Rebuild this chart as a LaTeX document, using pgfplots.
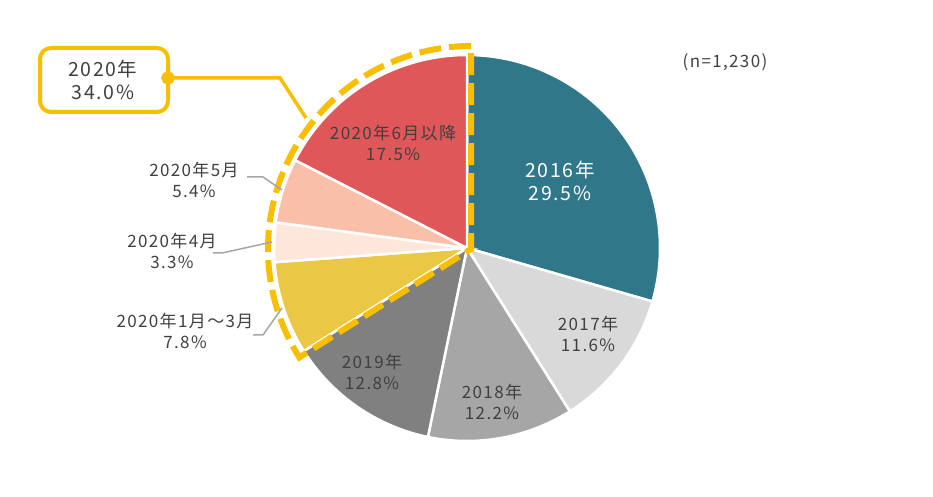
\documentclass[border=0pt]{standalone}
\usepackage{pgfplots}
\pgfplotsset{compat=1.18}
\usepackage{fontspec}
\setmainfont[LetterSpace=8]{Noto Sans CJK JP}
\definecolor{cA}{HTML}{31778A}
\definecolor{cB}{HTML}{D9D9D9}
\definecolor{cC}{HTML}{A6A6A6}
\definecolor{cD}{HTML}{808080}
\definecolor{cE}{HTML}{EBC746}
\definecolor{cF}{HTML}{FDE7DA}
\definecolor{cG}{HTML}{F9BFA8}
\definecolor{cH}{HTML}{E05759}
\definecolor{ylw}{HTML}{F8BF00}
\definecolor{txt}{HTML}{404040}
\definecolor{lead}{HTML}{A6A6A6}
\tikzset{lbl/.style={font=\fontsize{17bp}{20.5bp}\selectfont, text=txt, align=center, inner sep=0pt},
  big/.style={lbl, font=\fontsize{19.5bp}{22.5bp}\selectfont}}
% start (cumulative %), value (%), colour
\newcommand\slice[3]{%
  \pgfmathsetmacro\sA{90-360/100.1*#1}%
  \pgfmathsetmacro\sB{90-360/100.1*(#1+#2)}%
  \edef\tmp{\noexpand\addplot[fill=#3, draw=white, line width=2.5bp, domain=\sB:\sA, samples=90, variable=\noexpand\t]
    ({467+193*cos(\noexpand\t)},{249+193*sin(\noexpand\t)}) -- (axis cs:467,249) -- cycle;}%
  \tmp}
\begin{document}
\begin{tikzpicture}
\begin{axis}[at={(0,0)}, anchor=south west, scale only axis, width=933bp, height=497bp,
  xmin=0, xmax=933, ymin=0, ymax=497, hide axis, clip=false]
\slice{0}{29.5}{cA}
\slice{29.5}{11.6}{cB}
\slice{41.1}{12.2}{cC}
\slice{53.3}{12.8}{cD}
\slice{66.1}{7.8}{cE}
\slice{73.9}{3.3}{cF}
\slice{77.2}{5.4}{cG}
\slice{82.6}{17.5}{cH}
% dashed outline around 2020 (34.0%)
\addplot[draw=ylw, line width=6bp, dash pattern=on 22bp off 8bp, domain=90:212.3, samples=90, variable=\t]
  ({471+203*cos(\t)},{248+203*sin(\t)}) -- (axis cs:471,248) -- cycle;
% leader lines
\addplot[draw=lead, line width=1.5bp] coordinates {(247,320) (263,320) (282,307)};
\addplot[draw=lead, line width=1.5bp] coordinates {(213,244) (222,244) (272,255)};
\addplot[draw=lead, line width=1.5bp] coordinates {(253,162) (263,162) (282,189)};
% callout connector
\addplot[draw=ylw, line width=3.5bp, mark=*, mark size=5bp, mark indices={1}, mark options={fill=ylw, draw=ylw}]
  coordinates {(168,419) (280,419) (306,379)};
\draw[ylw, line width=4bp, rounded corners=11bp] (axis cs:40,449) rectangle (axis cs:168,385);
\node[big] at (axis cs:103,417) {2020年\\34.0\%};
% slice labels
\node[big, text=white] at (axis cs:560,316) {2016年\\29.5\%};
\node[lbl] at (axis cs:588,163) {2017年\\11.6\%};
\node[lbl] at (axis cs:492,95) {2018年\\12.2\%};
\node[lbl] at (axis cs:372,125) {2019年\\12.8\%};
\node[lbl] at (axis cs:393,354) {2020年6月以降\\17.5\%};
\node[lbl] at (axis cs:194,317) {2020年5月\\5.4\%};
\node[lbl] at (axis cs:172,246) {2020年4月\\3.3\%};
\node[lbl] at (axis cs:185,166) {2020年1月～3月\\7.8\%};
\node[lbl] at (axis cs:725,435) {(n=1,230)};
\end{axis}
\pgfresetboundingbox
\path (0,0) rectangle (933bp,497bp);
\end{tikzpicture}
\end{document}
